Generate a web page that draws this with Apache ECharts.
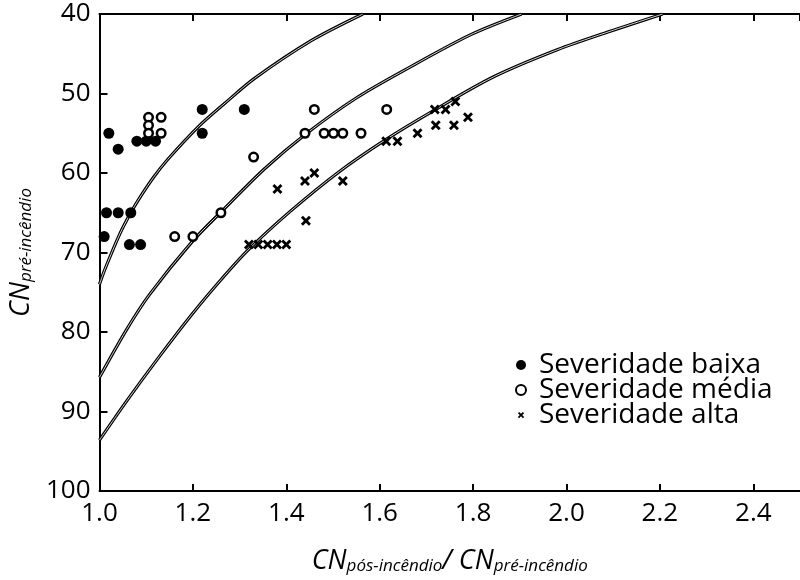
<!DOCTYPE html>
<html>
<head>
<meta charset="utf-8">
<script src="https://cdn.jsdelivr.net/npm/echarts@6/dist/echarts.min.js"></script>
<style>
html,body{margin:0;padding:0;background:#fff;}
#chart{width:800px;height:580px;}
</style>
</head>
<body>
<div id="chart"></div>
<script>
// ---- data ----
var xTicks = [1.0, 1.2, 1.4, 1.6, 1.8, 2.0, 2.2, 2.4];
var yTicks = [40, 50, 60, 70, 80, 90, 100];

var baixaX = [1.02, 1.04, 1.08, 1.10, 1.12, 1.22, 1.22, 1.31, 1.015, 1.04, 1.067, 1.01, 1.064, 1.088];
var baixaY = [55, 57, 56, 56, 56, 52, 55, 52, 65, 65, 65, 68, 69, 69];

var mediaX = [1.105, 1.105, 1.105, 1.132, 1.132, 1.33, 1.26, 1.161, 1.20, 1.46, 1.615, 1.44, 1.481, 1.501, 1.521, 1.56];
var mediaY = [53, 54, 55, 53, 55, 58, 65, 68, 68, 52, 52, 55, 55, 55, 55, 55];

var altaX = [1.32, 1.34, 1.36, 1.38, 1.40, 1.381, 1.44, 1.46, 1.521, 1.442, 1.614, 1.638, 1.681, 1.718, 1.741, 1.762, 1.72, 1.759, 1.789];
var altaY = [69, 69, 69, 69, 69, 62, 61, 60, 61, 66, 56, 56, 55, 52, 52, 51, 54, 54, 53];

var curve1X = [1.0, 1.011, 1.044, 1.067, 1.083, 1.115, 1.146, 1.213, 1.269, 1.332, 1.455, 1.564];
var curve1Y = [74, 72.2, 67.6, 65, 63.4, 60.6, 58.3, 54.1, 51.2, 48.1, 43.3, 40];

var curve2X = [1.0, 1.058, 1.107, 1.199, 1.262, 1.353, 1.444, 1.549, 1.655, 1.795, 1.904];
var curve2Y = [85.7, 79.7, 75.3, 68.6, 64.8, 59.5, 55.0, 50.6, 47.0, 42.6, 40];

var curve3X = [1.0, 1.058, 1.128, 1.199, 1.262, 1.318, 1.409, 1.514, 1.613, 1.711, 1.844, 1.980, 2.097, 2.206];
var curve3Y = [93.6, 88.7, 83.1, 77.7, 73.3, 69.7, 64.8, 59.8, 55.8, 52.3, 47.9, 44.5, 42.1, 40];

var seriesNames = ['Severidade baixa', 'Severidade média', 'Severidade alta'];

function zip(a, b) { return a.map(function (v, i) { return [v, b[i]]; }); }

var FONT = '"Open Sans", "Noto Sans", sans-serif';
var crossPath = 'path://M2,0L5,3L8,0L10,2L7,5L10,8L8,10L5,7L2,10L0,8L3,5L0,2Z';
var crossLegend = 'path://M-3,-3M13,13M2,0L5,3L8,0L10,2L7,5L10,8L8,10L5,7L2,10L0,8L3,5L0,2Z';

function curveSeries(xs, ys) {
  var d = zip(xs, ys);
  return [{
    type: 'line', data: d, symbol: 'none', smooth: 0.3, silent: true,
    lineStyle: { color: '#000', width: 3.2 }, z: 2
  }, {
    type: 'line', data: d, symbol: 'none', smooth: 0.3, silent: true,
    lineStyle: { color: '#cfcfcf', width: 1 }, z: 3
  }];
}

var chart = echarts.init(document.getElementById('chart'), null, { renderer: 'canvas' });

var axisLine = { show: true, lineStyle: { color: '#000', width: 2 } };
var nameRich = {
  a: { fontFamily: FONT, fontSize: 27, fontStyle: 'italic', fontWeight: 500, color: '#000', verticalAlign: 'bottom', lineHeight: 30 },
  b: { fontFamily: FONT, fontSize: 17, fontStyle: 'italic', color: '#000', verticalAlign: 'bottom', lineHeight: 26 }
};

var series = [];
series = series.concat(curveSeries(curve1X, curve1Y), curveSeries(curve2X, curve2Y), curveSeries(curve3X, curve3Y));
series.push({
  name: seriesNames[0], type: 'scatter', data: zip(baixaX, baixaY), symbol: 'circle', symbolSize: 11,
  itemStyle: { color: '#000', opacity: 1 }, z: 5
});
series.push({
  name: seriesNames[1], type: 'scatter', data: zip(mediaX, mediaY), symbol: 'circle', symbolSize: 8.5,
  itemStyle: { color: '#fff', borderColor: '#000', borderWidth: 2.5, opacity: 1 }, z: 5
});
series.push({
  name: seriesNames[2], type: 'scatter', data: zip(altaX, altaY), symbol: crossPath, symbolSize: 10,
  itemStyle: { color: '#000', opacity: 1 }, z: 5
});

chart.setOption({
  animation: false,
  backgroundColor: '#fff',
  grid: { left: 89, right: -1.5, top: 14, bottom: 83.5, containLabel: false },
  legend: {
    orient: 'vertical', left: 515, top: 351, padding: 0, itemGap: -3,
    itemWidth: 26, itemHeight: 10,
    textStyle: { fontFamily: FONT, fontSize: 28, color: '#000' },
    data: [
      { name: seriesNames[0], icon: 'circle' },
      { name: seriesNames[1], icon: 'circle' },
      { name: seriesNames[2], icon: crossLegend }
    ],
    selectedMode: false
  },
  xAxis: [{
    type: 'value', min: 1.0, max: 2.5, interval: 0.2, position: 'bottom',
    axisLine: axisLine,
    axisTick: { show: true, inside: true, length: 7, lineStyle: { color: '#000', width: 2 } },
    axisLabel: {
      fontFamily: FONT, fontSize: 26, color: '#000', margin: 10, showMaxLabel: false,
      formatter: function (v) { return xTicks.indexOf(Math.round(v * 10) / 10) >= 0 ? v.toFixed(1) : ''; }
    },
    splitLine: { show: false },
    name: '{a|CN}{b|pós-incêndio}{a|/ CN}{b|pré-incêndio}',
    nameLocation: 'middle', nameGap: 54,
    nameTextStyle: { rich: nameRich }
  }, {
    type: 'value', min: 1.0, max: 2.5, interval: 0.2, position: 'top',
    axisLine: axisLine,
    axisTick: { show: true, inside: true, length: 7, lineStyle: { color: '#000', width: 2 } },
    axisLabel: { show: false }, splitLine: { show: false }
  }],
  yAxis: [{
    type: 'value', min: 40, max: 100, interval: 10, inverse: true,
    axisLine: axisLine,
    axisTick: { show: true, inside: true, length: 8, lineStyle: { color: '#000', width: 2 } },
    axisLabel: {
      fontFamily: FONT, fontSize: 26, color: '#000', margin: 9,
      formatter: function (v) { return yTicks.indexOf(v) >= 0 ? String(v) : ''; }
    },
    splitLine: { show: false },
    name: '{a|CN}{b|pré-incêndio}',
    nameLocation: 'middle', nameGap: 48,
    nameTextStyle: { rich: nameRich }
  }],
  series: series
});
</script>
</body>
</html>
